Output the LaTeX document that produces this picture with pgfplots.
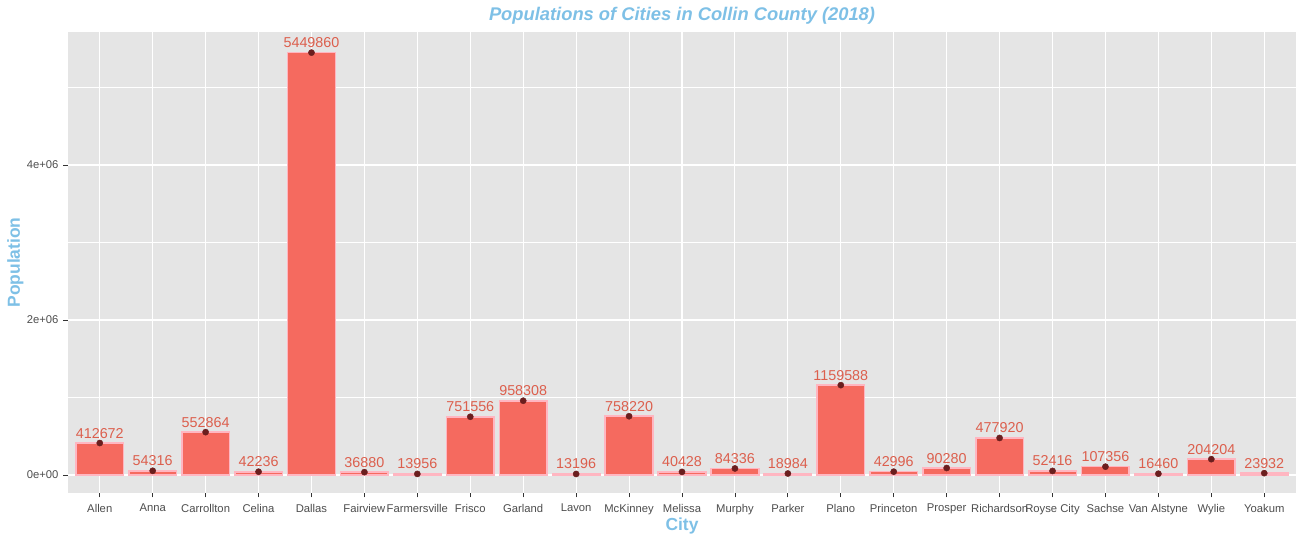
\documentclass[border=0pt]{standalone}
\usepackage{fontspec}
\setmainfont{Liberation Sans}
\usepackage{pgfplots}
\pgfplotsset{compat=1.18}
\usepackage{pgfplotstable}
\definecolor{panelbg}{HTML}{E5E5E5}
\definecolor{barfill}{HTML}{F56A5F}
\definecolor{barline}{HTML}{FFB6C1}
\definecolor{ptcol}{HTML}{6B1E1E}
\definecolor{labred}{HTML}{DC5F4D}
\definecolor{titleblue}{HTML}{7EC0E6}
\definecolor{tickgray}{HTML}{333333}
\definecolor{labgray}{HTML}{4D4D4D}
\pgfplotstableread{
x y lab
0 412672 412672
1 54316 54316
2 552864 552864
3 42236 42236
4 5449860 5449860
5 36880 36880
6 13956 13956
7 751556 751556
8 958308 958308
9 13196 13196
10 758220 758220
11 40428 40428
12 84336 84336
13 18984 18984
14 1159588 1159588
15 42996 42996
16 90280 90280
17 477920 477920
18 52416 52416
19 107356 107356
20 16460 16460
21 204204 204204
22 23932 23932
}\data
\begin{document}
\begin{tikzpicture}
\path[use as bounding box] (0,0) rectangle (1303bp,542bp);
\begin{axis}[
  at={(68bp,49bp)}, anchor=south west,
  scale only axis, width=1228bp, height=461bp,
  xmin=-0.6, xmax=22.6, ymin=-232258, ymax=5716129,
  xtick={0,...,22},
  xticklabels={Allen,Anna,Carrollton,Celina,Dallas,Fairview,Farmersville,Frisco,Garland,Lavon,McKinney,Melissa,Murphy,Parker,Plano,Princeton,Prosper,Richardson,Royse City,Sachse,Van Alstyne,Wylie,Yoakum},
  ytick={0,2000000,4000000},
  yticklabels={0e+00,2e+06,4e+06},
  minor ytick={1000000,3000000,5000000},
  scaled y ticks=false,
  grid=both,
  major grid style={white, line width=1.1bp},
  minor grid style={white, line width=0.55bp},
  minor tick length=0pt,
  major tick length=4.5bp,
  tick align=outside,
  xtick pos=left, ytick pos=left,
  tick style={color=tickgray, line width=0.8bp},
  axis line style={draw=none},
  axis background/.style={fill=panelbg},
  ticklabel style={font=\fontsize{11.3}{13}\selectfont, text=labgray},
  xticklabel style={yshift=-3bp},
  yticklabel style={xshift=-1.5bp},
  title={\bfseries\itshape Populations of Cities in Collin County (2018)},
  title style={font=\fontsize{18.4}{21}\selectfont, text=titleblue, at={(0.5,1.0239)}, anchor=base, yshift=-6pt},
  xlabel={\bfseries City},
  xlabel style={font=\fontsize{17.5}{20}\selectfont, text=titleblue, at={(0.5,-0.0813)}, anchor=base},
  ylabel={\bfseries Population},
  ylabel style={font=\fontsize{17.5}{20}\selectfont, text=titleblue, at={(-0.0391,0.5)}, anchor=base},
]
\addplot[ybar, bar width=0.9, fill=barfill, draw=barline, line width=1.6bp] table[x=x,y=y] {\data};
\addplot[only marks, mark=*, mark size=3.1bp, color=ptcol,
  point meta=explicit symbolic,
  nodes near coords,
  every node near coord/.append style={font=\fontsize{14.4}{16}\selectfont, text=labred, anchor=base, yshift=5bp, inner sep=0pt}
] table[x=x,y=y,meta=lab] {\data};
\end{axis}
\end{tikzpicture}
\end{document}
